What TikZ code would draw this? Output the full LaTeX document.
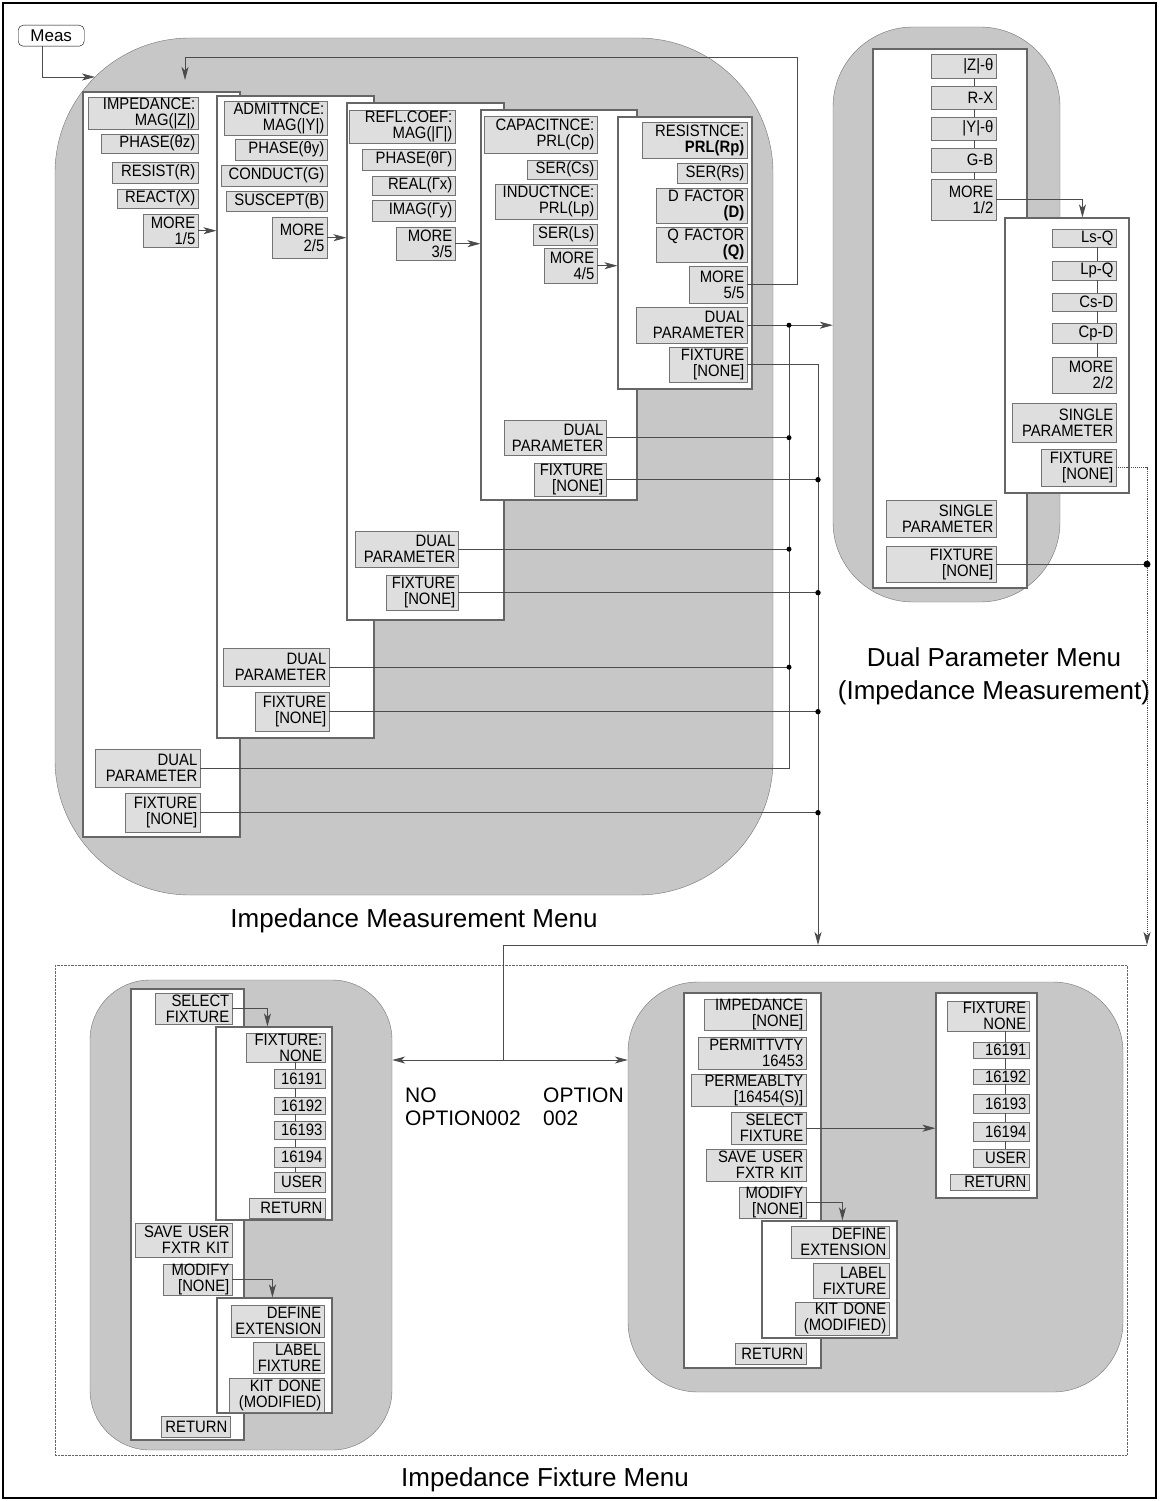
\documentclass[tikz,border=0pt]{standalone}
\usepackage{fontspec}
\setmainfont{Liberation Sans}
\newfontfamily\keyfamily[FakeStretch=0.9]{Liberation Sans}
\newcommand{\keyfont}{\keyfamily\fontsize{16.5}{16}\selectfont}
\newcommand{\titlefont}{\fontsize{26}{33}\selectfont}
\newcommand{\labelfont}{\fontsize{21}{23}\selectfont}
\usetikzlibrary{positioning,fit,arrows.meta}

\begin{document}
\begin{tikzpicture}[
          x=1pt, y=-1pt,
          region/.style={draw=black!55, fill=black!22, inner sep=0pt},
          panel/.style={draw=black!60, line width=1.1pt, fill=white, inner sep=0pt},
          key/.style 2 args={draw=black!55, fill=black!13, font=\keyfont, align=right,
            inner xsep=2.5pt, inner ysep=0pt, anchor=north east,
            text width=#1pt, minimum height=#2pt},
          wire/.style={draw=black!70, line width=0.9pt},
          link/.style={draw=black!70, line width=0.6pt},
          arr/.style={-{Stealth[length=13pt,width=7pt,inset=3.5pt]}},
          dbl/.style={{Stealth[length=13pt,width=7pt,inset=3.5pt]}-{Stealth[length=13pt,width=7pt,inset=3.5pt]}}
            ]
    \useasboundingbox (0,0) rectangle (1159,1501);
    \draw[line width=1.6pt] (3,3) rectangle (1156,1498);

    % grey menu areas
    \node[region, rounded corners=135pt, fit={(55,38) (773,895)}] (regImp) {};
    \node[region, rounded corners=80pt, fit={(833,27) (1060,602)}] (regDual) {};
    \draw[densely dotted, black!60] (55,965) rectangle (1127,1455);
    \node[region, rounded corners=60pt, fit={(90,980) (392,1450)}] (regFixL) {};
    \node[region, rounded corners=70pt, fit={(628,982) (1123,1392)}] (regFixR) {};

    \node[draw, fill=white, rounded corners=5pt, minimum width=66pt, minimum height=21pt,
          inner sep=0pt, anchor=north west, font=\fontsize{17}{17}\selectfont] (meas) at (18,25) {Meas};

    % impedance measurement menu
    \node[panel, fit={(83,92) (240,837)}] (pImp) {};
    \node[panel, fit={(217,96) (374,738)}] (pAdm) {};
    \node[panel, fit={(347,103) (504,620)}] (pRef) {};
    \node[panel, fit={(481,110) (637,500)}] (pCap) {};
    \node[panel, fit={(618,117) (752,389)}] (pRes) {};

    \node[key={105}{32}] (impZ) at (198,97) {IMPEDANCE:\\MAG(|Z|)};
    \node[key={92}{19}] (phZ) at (198,134) {PHASE(θz)};
    \node[key={81}{21}] (resR) at (198,162) {RESIST(R)};
    \node[key={76}{19}] (reaX) at (198,189) {REACT(X)};
    \node[key={50}{33}] (more1) at (198,214) {MORE\\1/5};
    \node[key={100}{38}] (dual1) at (200,749) {DUAL\\PARAMETER};
    \node[key={70}{39}] (fix1) at (200,793) {FIXTURE\\{}[NONE]};

    \node[key={98}{34}] (admY) at (327,101) {ADMITTNCE:\\MAG(|Y|)};
    \node[key={87}{21}] (phY) at (327,139) {PHASE(θy)};
    \node[key={101}{21}] (conG) at (327,165) {CONDUCT(G)};
    \node[key={96}{20}] (susB) at (327,191) {SUSCEPT(B)};
    \node[key={50}{41}] (more2) at (327,217) {MORE\\2/5};
    \node[key={101}{38}] (dual2) at (329,648) {DUAL\\PARAMETER};
    \node[key={69}{39}] (fix2) at (329,692) {FIXTURE\\{}[NONE]};

    \node[key={101}{33}] (refG) at (455,110) {REFL.COEF:\\MAG(|Γ|)};
    \node[key={88}{21}] (phG) at (455,149) {PHASE(θΓ)};
    \node[key={78}{19}] (reG) at (455,176) {REAL(Γx)};
    \node[key={78}{21}] (imG) at (455,200) {IMAG(Γy)};
    \node[key={54}{33}] (more3) at (455,227) {MORE\\3/5};
    \node[key={98}{36}] (dual3) at (458,531) {DUAL\\PARAMETER};
    \node[key={67}{35}] (fix3) at (458,575) {FIXTURE\\{}[NONE]};

    \node[key={108}{37}] (capC) at (597,116) {CAPACITNCE:\\PRL(Cp)};
    \node[key={65}{19}] (serC) at (597,160) {SER(Cs)};
    \node[key={97}{35}] (indL) at (597,184) {INDUCTNCE:\\PRL(Lp)};
    \node[key={59}{21}] (serL) at (597,224) {SER(Ls)};
    \node[key={48}{35}] (more4) at (597,248) {MORE\\4/5};
    \node[key={97}{35}] (dual4) at (606,420) {DUAL\\PARAMETER};
    \node[key={67}{33}] (fix4) at (606,463) {FIXTURE\\{}[NONE]};

    \node[key={100}{36}] (resP) at (747,122) {RESISTNCE:\\\textbf{PRL(Rp)}};
    \node[key={65}{20}] (serR) at (747,163) {SER(Rs)};
    \node[key={86}{35}] (dfac) at (747,188) {D FACTOR\\\textbf{(D)}};
    \node[key={86}{35}] (qfac) at (747,227) {Q FACTOR\\\textbf{(Q)}};
    \node[key={53}{37}] (more5) at (747,266) {MORE\\5/5};
    \node[key={106}{36}] (dual5) at (747,307) {DUAL\\PARAMETER};
    \node[key={73}{35}] (fix5) at (747,347) {FIXTURE\\{}[NONE]};

    % dual parameter menu
    \node[panel, fit={(873,49) (1027,588)}] (pDualA) {};
    \node[panel, fit={(1005,218) (1129,493)}] (pDualB) {};

    \node[key={60}{24}] (zt) at (996,54) {|Z|-θ};
    \node[key={60}{23}] (rx) at (996,86) {R-X};
    \node[key={60}{23}] (yt) at (996,117) {|Y|-θ};
    \node[key={60}{24}] (gb) at (996,148) {G-B};
    \node[key={60}{41}] (more12) at (996,179) {MORE\\1/2};
    \node[key={105}{37}] (singA) at (996,500) {SINGLE\\PARAMETER};
    \node[key={105}{36}] (fixA) at (996,546) {FIXTURE\\{}[NONE]};

    \node[key={59}{18}] (lsq) at (1116,229) {Ls-Q};
    \node[key={59}{19}] (lpq) at (1116,261) {Lp-Q};
    \node[key={59}{18}] (csd) at (1116,293) {Cs-D};
    \node[key={59}{20}] (cpd) at (1116,323) {Cp-D};
    \node[key={59}{36}] (more22) at (1116,357) {MORE\\2/2};
    \node[key={99}{39}] (singB) at (1116,403) {SINGLE\\PARAMETER};
    \node[key={70}{37}] (fixB) at (1116,449) {FIXTURE\\{}[NONE]};

    % fixture menu, no option 002
    \node[panel, fit={(131,989) (244,1440)}] (pFL) {};
    \node[panel, fit={(216,1027) (332,1220)}] (pFLa) {};
    \node[panel, fit={(217,1298) (332,1413)}] (pFLb) {};

    \node[key={72}{31}] (selL) at (232,993) {SELECT\\FIXTURE};
    \node[key={74}{29}] (fnL) at (325,1033) {FIXTURE:\\NONE};
    \node[key={46}{19}] (f1L) at (325,1069) {16191};
    \node[key={46}{17}] (f2L) at (325,1097) {16192};
    \node[key={46}{18}] (f3L) at (325,1121) {16193};
    \node[key={46}{20}] (f4L) at (325,1147) {16194};
    \node[key={46}{20}] (usL) at (325,1172) {USER};
    \node[key={71}{20}] (rtL) at (325,1198) {RETURN};
    \node[key={92}{34}] (saveL) at (232,1223) {SAVE USER\\FXTR KIT};
    \node[key={64}{30}] (modL) at (232,1264) {MODIFY\\{}[NONE]};
    \node[key={88}{32}] (defL) at (324,1305) {DEFINE\\EXTENSION};
    \node[key={66}{31}] (labL) at (324,1342) {LABEL\\FIXTURE};
    \node[key={90}{34}] (kitL) at (324,1378) {KIT DONE\\(MODIFIED)};
    \node[key={64}{21}] (rtL2) at (230,1416) {RETURN};

    % fixture menu, option 002
    \node[panel, fit={(684,993) (821,1368)}] (pFR) {};
    \node[panel, fit={(762,1221) (897,1338)}] (pFRb) {};
    \node[panel, fit={(936,993) (1037,1198)}] (pFRs) {};

    \node[key={97}{31}] (impR) at (806,999) {IMPEDANCE\\{}[NONE]};
    \node[key={103}{32}] (perR) at (806,1037) {PERMITTVTY\\16453};
    \node[key={110}{32}] (pmbR) at (806,1074) {PERMEABLTY\\{}[16454(S)]};
    \node[key={70}{32}] (selR) at (806,1112) {SELECT\\FIXTURE};
    \node[key={95}{32}] (saveR) at (806,1149) {SAVE USER\\FXTR KIT};
    \node[key={62}{31}] (modR) at (806,1187) {MODIFY\\{}[NONE]};
    \node[key={66}{21}] (rtR) at (806,1343) {RETURN};
    \node[key={93}{32}] (defR) at (889,1226) {DEFINE\\EXTENSION};
    \node[key={71}{35}] (labR) at (889,1263) {LABEL\\FIXTURE};
    \node[key={89}{33}] (kitR) at (889,1302) {KIT DONE\\(MODIFIED)};

    \node[key={77}{30}] (fnR) at (1029,1001) {FIXTURE\\NONE};
    \node[key={51}{16}] (f1R) at (1029,1042) {16191};
    \node[key={51}{15}] (f2R) at (1029,1069) {16192};
    \node[key={51}{19}] (f3R) at (1029,1094) {16193};
    \node[key={51}{19}] (f4R) at (1029,1122) {16194};
    \node[key={51}{18}] (usR) at (1029,1149) {USER};
    \node[key={74}{16}] (rtR2) at (1029,1174) {RETURN};

    % titles
    \node[font=\titlefont, below=10pt of regImp] (tImp) {Impedance Measurement Menu};
    \node[font=\titlefont, align=center] (tDual) at (994,676) {Dual Parameter Menu\\(Impedance Measurement)};
    \node[font=\titlefont] (tFix) at (545,1480) {Impedance Fixture Menu};
    \node[font=\labelfont, align=left, anchor=north west, inner sep=0pt] (lNo) at (405,1088) {NO\\OPTION002};
    \node[font=\labelfont, align=left, anchor=north west, inner sep=0pt] (lOpt) at (543,1088) {OPTION\\002};

    % connectors
    \coordinate (entry) at (95,77);
    \coordinate (back) at (185,80);
    \coordinate (loopC) at (797,57);
    \coordinate (busA) at (789,0);
    \coordinate (busB) at (818,0);
    \coordinate (jn) at (503,945);
    \coordinate (jnB) at (818,945);
    \coordinate (jnC) at (1147,945);
    \coordinate (sw) at (503,1060);
    \coordinate (colD1) at (974,0);
    \coordinate (colD2) at (1097,0);
    \coordinate (colL) at (295,0);
    \coordinate (colR) at (1005,0);

    \draw[wire, arr] ([xshift=-9pt]meas.south) |- (entry);
    \foreach \m/\p in {more1/pAdm, more2/pRef, more3/pCap, more4/pRes}
        \draw[wire, arr] (\m.east) -- (\m.east -| \p.west);
    \draw[wire, arr] (more5.east) -| (loopC) -| (back);

    \draw[wire, arr] (dual5.east) -- (dual5.east -| regDual.west);
    \draw[wire] (dual1.east) -| (dual5.east -| busA);
    \fill (dual5.east -| busA) circle (2.5pt);
    \foreach \k in {dual2, dual3, dual4} {
        \draw[wire] (\k.east) -- (\k.east -| busA);
        \fill (\k.east -| busA) circle (2.5pt);
    }
    \draw[wire, arr] (fix5.east) -| (jnB);
    \foreach \k in {fix1, fix2, fix3, fix4} {
        \draw[wire] (\k.east) -- (\k.east -| busB);
        \fill (\k.east -| busB) circle (2.7pt);
    }

    \draw[wire, arr] (more12.east) -| ([xshift=78pt]pDualB.north west);
    \foreach \a/\b in {zt/rx, rx/yt, yt/gb, gb/more12}
        \draw[link] (\a.south -| colD1) -- (\b.north -| colD1);
    \foreach \a/\b in {lsq/lpq, lpq/csd, csd/cpd, cpd/more22}
        \draw[link] (\a.south -| colD2) -- (\b.north -| colD2);
    \draw[wire, densely dotted, arr] (fixB.east) -| (jnC);
    \draw[wire] (fixA.east) -- (fixA.east -| jnC);
    \fill (fixA.east -| jnC) circle (3.5pt);

    \draw[wire] (jnC) -- (jn) -- (sw);
    \draw[wire, dbl] (sw -| regFixL.east) -- (sw -| regFixR.west);

    \draw[wire, arr] (selL.east) -| ([xshift=52pt]pFLa.north west);
    \draw[wire, arr] (modL.east) -| ([xshift=56pt]pFLb.north west);
    \foreach \a/\b in {fnL/f1L, f1L/f2L, f2L/f3L, f3L/f4L, f4L/usL}
        \draw[link] (\a.south -| colL) -- (\b.north -| colL);

    \draw[wire, arr] (selR.east) -- (selR.east -| pFRs.west);
    \draw[wire, arr] (modR.east) -| ([xshift=81pt]pFRb.north west);
    \foreach \a/\b in {fnR/f1R, f1R/f2R, f2R/f3R, f3R/f4R, f4R/usR}
        \draw[link] (\a.south -| colR) -- (\b.north -| colR);
\end{tikzpicture}
\end{document}
